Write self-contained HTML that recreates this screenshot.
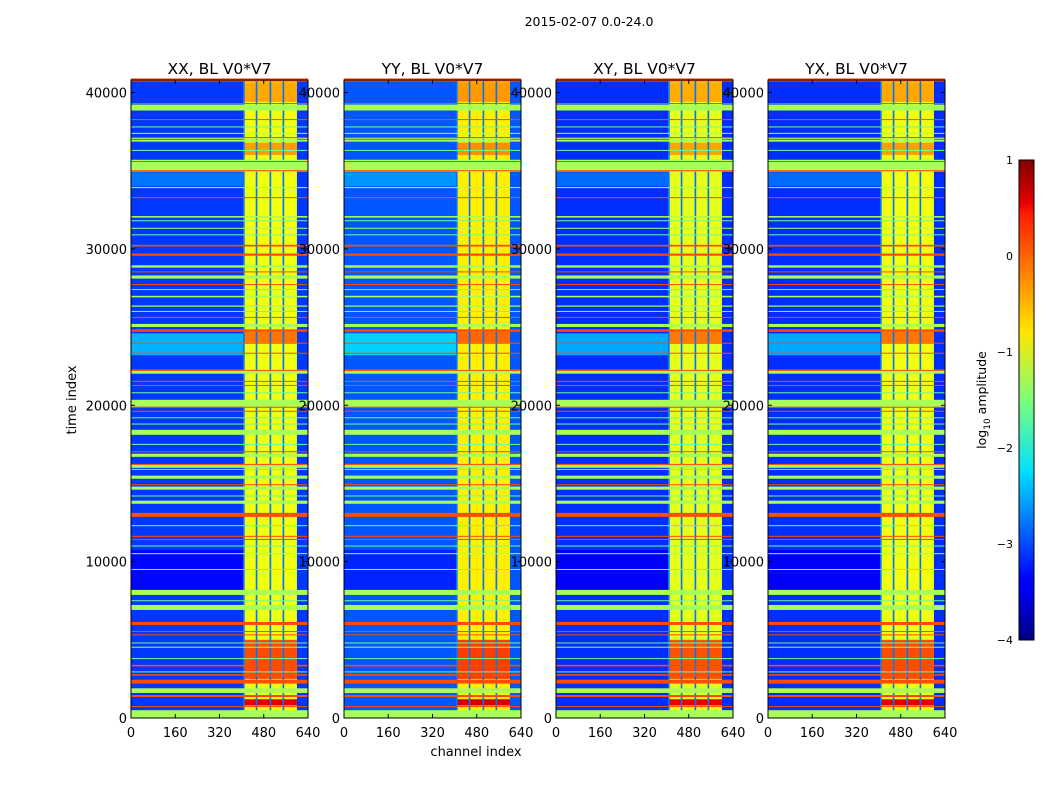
<!DOCTYPE html>
<html><head><meta charset="utf-8">
<style>
html,body{margin:0;padding:0;background:#fff;}
svg{display:block;font-family:"DejaVu Sans","Liberation Sans",sans-serif;}
</style></head>
<body>
<svg id="chart" width="1050" height="800" viewBox="0 0 1050 800">
<defs>
<linearGradient id="jet" x1="0" y1="1" x2="0" y2="0">
<stop offset="0" stop-color="#00007f"/>
<stop offset="0.11" stop-color="#0000ff"/>
<stop offset="0.125" stop-color="#0000ff"/>
<stop offset="0.34" stop-color="#00d4ff"/>
<stop offset="0.35" stop-color="#00e0ff"/>
<stop offset="0.5" stop-color="#7dff7a"/>
<stop offset="0.64" stop-color="#ffe600"/>
<stop offset="0.66" stop-color="#ffd700"/>
<stop offset="0.89" stop-color="#ff1a00"/>
<stop offset="0.91" stop-color="#e80000"/>
<stop offset="1" stop-color="#7f0000"/>
</linearGradient>
</defs>
<text x="589" y="26" font-size="12.5" text-anchor="middle">2015-02-07 0.0-24.0</text>
<g id="panels"></g>
<g id="axes"></g>
</svg>
<script>
// ---- data ----
const panelTitles = ["XX, BL V0*V7", "YY, BL V0*V7", "XY, BL V0*V7", "YX, BL V0*V7"];
const rightLevels = [-0.95, -0.8, -1.0, -0.95];
const leftLevels = [-3.1, -2.95, -3.15, -3.15];
const xTicks = [0, 160, 320, 480, 640];
const yTicks = [0, 10000, 20000, 30000, 40000];
const cbTicks = [1, 0, -1, -2, -3, -4];
const rightRange = [405, 600];
const orangeBands = [[40700,40900],[39280,39330],[38240,38300],[37100,37150],[35560,35620],[34980,35030],[33250,33310],[30150,30260],[29560,29700],[28500,28560],[27700,27750],[25600,25650],[24700,24850],[23950,24000],[23300,23360],[22200,22260],[21500,21560],[21250,21300],[19850,19900],[19600,19650],[17000,17060],[16200,16250],[14900,14950],[12860,13120],[11600,11650],[11400,11450],[5950,6140],[5500,5560],[5300,5350],[3300,3400],[2700,2800],[2200,2450],[1340,1470],[700,760]];
const orangeLevel = 0.0;
const greenBands = [[38850,39230],[37360,37420],[37080,37100],[36860,36990],[34940,35700],[33900,33950],[32000,32100],[31300,31350],[28800,28950],[28100,28300],[26900,27000],[26300,26380],[25000,25200],[22020,22270],[19900,20350],[18110,18430],[16700,16900],[16000,16200],[15300,15500],[14600,14800],[13700,13900],[10500,10540],[7870,8190],[6910,7230],[4500,4560],[1600,1900],[0,500]];
const greenLevel = -1.3;
const thinBands = [[37800,37830],[36300,36330],[31800,31830],[30900,30930],[27400,27430],[26000,26030],[20800,20830],[19200,19230],[18800,18830],[17500,17530],[15900,15930],[14200,14230],[12300,12330],[11000,11030],[9500,9530],[7500,7530],[4800,4830],[3800,3830],[2950,2980]];
const thinLevel = -1.6;
const rightBlocks = [[39400,40650,-0.45],[36000,36800,-0.4],[24000,24700,-0.2],[2500,5000,0.0],[800,1200,0.5]];
const leftZones = [[23200,24600,-2.5],[8200,10750,-3.35],[34000,34900,-2.8]];
const stripeChannels = [[405,411],[451,457],[501,507],[548,554]];
const stripeLevel = -2.8;
// ---- scales ----
const panelX = [131, 344, 556, 768], panelW = 177;
const yTop = 80, yBot = 718, tMax = 40800;
const vmin = -4, vmax = 1;
function xs(p, c){ return panelX[p] + c / 640 * panelW; }
function ys(t){ return yBot - t / tMax * (yBot - yTop); }
function jet(v){
  let t = Math.max(0, Math.min(1, (v - vmin) / (vmax - vmin)));
  const cl = x => Math.round(255 * Math.max(0, Math.min(1, x)));
  return `rgb(${cl(1.5-Math.abs(4*t-3))},${cl(1.5-Math.abs(4*t-2))},${cl(1.5-Math.abs(4*t-1))})`;
}
const NS = "http://www.w3.org/2000/svg";
const G = document.getElementById("panels"), A = document.getElementById("axes");
function rect(parent, x, y, w, h, fill){
  const r = document.createElementNS(NS, "rect");
  r.setAttribute("x", x); r.setAttribute("y", y); r.setAttribute("width", w); r.setAttribute("height", h);
  r.setAttribute("fill", fill);
  parent.appendChild(r); return r;
}
function text(parent, x, y, s, size, anchor){
  const t = document.createElementNS(NS, "text");
  t.setAttribute("x", x); t.setAttribute("y", y); t.setAttribute("font-size", size);
  t.setAttribute("text-anchor", anchor); t.textContent = s;
  parent.appendChild(t); return t;
}
function line(parent, x1, y1, x2, y2){
  const l = document.createElementNS(NS, "line");
  l.setAttribute("x1", x1); l.setAttribute("y1", y1); l.setAttribute("x2", x2); l.setAttribute("y2", y2);
  l.setAttribute("stroke", "#000"); l.setAttribute("stroke-width", 1);
  parent.appendChild(l); return l;
}
function band(g, p, c0, c1, t0, t1, v, name){
  const y1 = ys(t1), y0 = ys(t0);
  const r = rect(g, xs(p, c0), y1, xs(p, c1) - xs(p, c0), Math.max(1, y0 - y1), jet(v));
  
  
}
for (let p = 0; p < 4; p++){
  const g = document.createElementNS(NS, "g");
  
  
  G.appendChild(g);
  band(g, p, 0, 640, 0, tMax, leftLevels[p], 'background-region');
  leftZones.forEach(z => band(g, p, 0, rightRange[0], z[0], z[1], z[2] + (leftLevels[p] + 3.1), 'left-zone'));
  band(g, p, rightRange[0], rightRange[1], 0, tMax, rightLevels[p], 'bright-channel-region');
  rightBlocks.forEach(z => band(g, p, rightRange[0], rightRange[1], z[0], z[1], z[2] + (rightLevels[p] + 0.95) * 0.5, 'bright-block'));
  stripeChannels.forEach(s => band(g, p, s[0], s[1], 0, tMax, stripeLevel, 'channel-stripe'));
  thinBands.forEach(b => band(g, p, 0, 640, b[0], b[1], thinLevel, 'thin-band'));
  greenBands.forEach(b => band(g, p, 0, 640, b[0], b[1], greenLevel, 'green-band'));
  orangeBands.forEach(b => band(g, p, 0, 640, b[0], b[1], orangeLevel, 'orange-band'));
  const fr = rect(A, panelX[p], yTop, panelW, yBot - yTop, "none");
  fr.setAttribute("stroke", "#000");
  
  
  const tt = text(A, panelX[p] + panelW / 2, 74, panelTitles[p], 15.5, "middle");
  
  
  xTicks.forEach(c => {
    const x = xs(p, c);
    line(A, x, yBot, x, yBot - 4); line(A, x, yTop, x, yTop + 4);
    const l = text(A, x, 737, String(c), 13, "middle");
    
    
  });
  yTicks.forEach(t => {
    const y = ys(t);
    line(A, panelX[p], y, panelX[p] + 4, y); line(A, panelX[p] + panelW, y, panelX[p] + panelW - 4, y);
    const l = text(A, panelX[p] - 4, y + 5, String(t), 13, "end");
    
    
  });
}
const yl = text(A, 0, 0, "time index", 13, "middle");
yl.setAttribute("transform", "translate(76,400) rotate(-90)");


const xl = text(A, 476, 756, "channel index", 13, "middle");


const cbTop = 160, cbBot = 640, cbX = 1019, cbW = 15;
const cb = rect(A, cbX, cbTop, cbW, cbBot - cbTop, "url(#jet)");
cb.setAttribute("stroke", "#000");


cbTicks.forEach(v => {
  const y = cbBot - (v - vmin) / (vmax - vmin) * (cbBot - cbTop);
  const l = text(A, 1013, y + 4, v < 0 ? "\u2212" + (-v) : String(v), 11, "end");
  
  
});
const cl = text(A, 0, 0, "", 12.5, "middle");
cl.innerHTML = 'log<tspan font-size="9" dy="4">10</tspan><tspan dy="-4"> amplitude</tspan>';
cl.setAttribute("transform", "translate(986,400) rotate(-90)");


</script>
</body></html>
